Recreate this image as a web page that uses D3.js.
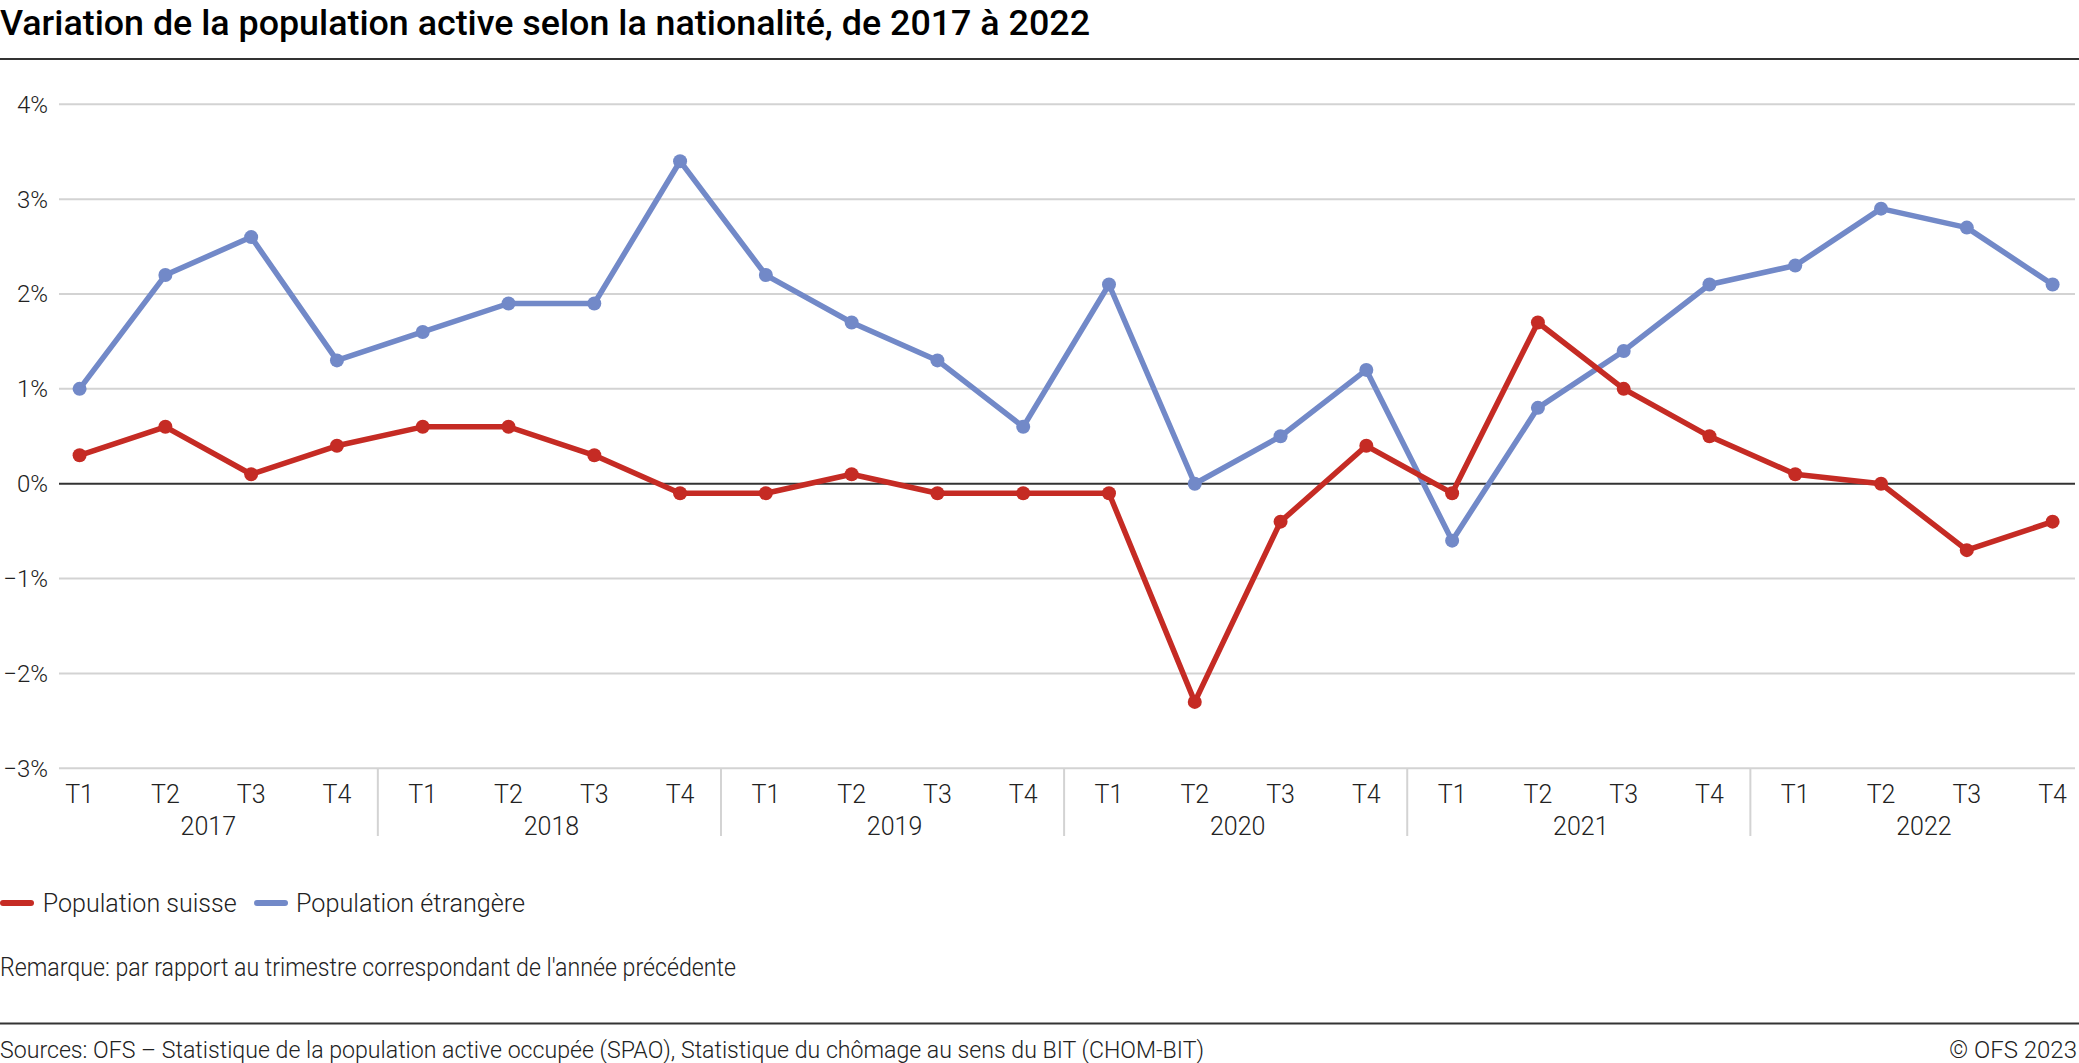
<!DOCTYPE html>
<html>
<head>
<meta charset="utf-8">
<script src="https://cdn.jsdelivr.net/npm/d3@7/dist/d3.min.js"></script>
<style>
  html, body { margin: 0; padding: 0; background: #fff; }
  svg { display: block; font-family: Roboto, "Noto Sans", sans-serif; }
</style>
</head>
<body>
<svg id="chart" width="2079" height="1063"></svg>
<script>
const years = ["2017", "2018", "2019", "2020", "2021", "2022"];
const quarters = ["T1", "T2", "T3", "T4"];
const suisse = [0.3, 0.6, 0.1, 0.4, 0.6, 0.6, 0.3, -0.1, -0.1, 0.1, -0.1, -0.1, -0.1, -2.3, -0.4, 0.4, -0.1, 1.7, 1.0, 0.5, 0.1, 0.0, -0.7, -0.4];
const etrangere = [1.0, 2.2, 2.6, 1.3, 1.6, 1.9, 1.9, 3.4, 2.2, 1.7, 1.3, 0.6, 2.1, 0.0, 0.5, 1.2, -0.6, 0.8, 1.4, 2.1, 2.3, 2.9, 2.7, 2.1];
const yTicks = [-3, -2, -1, 0, 1, 2, 3, 4];
const seriesNames = ["Population suisse", "Population étrangère"];
const seriesColors = ["#c52b24", "#7289c8"];

const W = 2079, H = 1063;
const svg = d3.select("#chart");

const keys = [];
years.forEach(y => quarters.forEach(q => keys.push(y + "-" + q)));

const x = d3.scalePoint().domain(keys).range([79.6, 2052.6]);
const y = d3.scaleLinear().domain([-3, 4]).range([768.3, 104.3]);
const gridX0 = 59, gridX1 = 2075;

// Title
svg.append("text")
  .attr("x", 0).attr("y", 35)
  .attr("font-size", 35).attr("font-weight", 500).attr("fill", "#000")
  .attr("textLength", 1090).attr("lengthAdjust", "spacingAndGlyphs")
  .text("Variation de la population active selon la nationalité, de 2017 à 2022");
svg.append("line").attr("x1", 0).attr("x2", W).attr("y1", 59).attr("y2", 59)
  .attr("stroke", "#333").attr("stroke-width", 2);

// Gridlines
const fmt = v => (v < 0 ? "\u2212" + Math.abs(v) : String(v)) + "%";
svg.append("g").selectAll("line").data(yTicks.filter(d => d !== 0)).join("line")
  .attr("x1", gridX0).attr("x2", gridX1)
  .attr("y1", d => y(d)).attr("y2", d => y(d))
  .attr("stroke", "#d3d3d3").attr("stroke-width", 2);

// Y labels
svg.append("g").selectAll("text").data(yTicks).join("text")
  .attr("x", 48).attr("y", d => y(d)).attr("dy", "0.35em")
  .attr("text-anchor", "end").attr("font-size", 24).attr("font-weight", 300).attr("fill", "#222")
  .text(fmt);

// Year separators
const step = x.step();
svg.append("g").selectAll("line").data(years.slice(1)).join("line")
  .attr("x1", d => x(d + "-T1") - step / 2 - 2).attr("x2", d => x(d + "-T1") - step / 2 - 2)
  .attr("y1", y(-3)).attr("y2", 836)
  .attr("stroke", "#d3d3d3").attr("stroke-width", 2);

// Quarter labels
svg.append("g").selectAll("text").data(keys).join("text")
  .attr("x", d => x(d)).attr("y", 803)
  .attr("text-anchor", "middle").attr("font-size", 25).attr("font-weight", 300).attr("fill", "#222")
  .text(d => d.split("-")[1]);

// Year labels
svg.append("g").selectAll("text").data(years).join("text")
  .attr("x", d => (x(d + "-T2") + x(d + "-T3")) / 2).attr("y", 835)
  .attr("text-anchor", "middle").attr("font-size", 25).attr("font-weight", 300).attr("fill", "#222")
  .text(d => d);

// Zero line
svg.append("line").attr("x1", gridX0).attr("x2", gridX1).attr("y1", y(0)).attr("y2", y(0))
  .attr("stroke", "#333").attr("stroke-width", 2);

// Series
const line = d3.line().x((d, i) => x(keys[i])).y(d => y(d));
[etrangere, suisse].forEach((vals, k) => {
  const col = k === 0 ? seriesColors[1] : seriesColors[0];
  svg.append("path").attr("d", line(vals)).attr("fill", "none")
    .attr("stroke", col).attr("stroke-width", 5.5).attr("stroke-linejoin", "round");
  svg.append("g").selectAll("circle").data(vals).join("circle")
    .attr("cx", (d, i) => x(keys[i])).attr("cy", d => y(d)).attr("r", 7)
    .attr("fill", col);
});

// Legend
const legendItems = [
  { name: seriesNames[0], color: seriesColors[0], x0: 2, tx: 42.7, w: 194 },
  { name: seriesNames[1], color: seriesColors[1], x0: 256, tx: 296, w: 229 }
];
const lg = svg.append("g");
legendItems.forEach(it => {
  lg.append("line").attr("x1", it.x0 + 1).attr("x2", it.x0 + 29).attr("y1", 903).attr("y2", 903)
    .attr("stroke", it.color).attr("stroke-width", 6).attr("stroke-linecap", "round");
  lg.append("text").attr("x", it.tx).attr("y", 903).attr("dy", "0.35em")
    .attr("font-size", 26).attr("font-weight", 300).attr("fill", "#222")
    .attr("textLength", it.w).attr("lengthAdjust", "spacingAndGlyphs").text(it.name);
});

// Remark
svg.append("text").attr("x", 0).attr("y", 976)
  .attr("font-size", 25).attr("font-weight", 300).attr("fill", "#222")
  .attr("textLength", 736).attr("lengthAdjust", "spacingAndGlyphs")
  .text("Remarque: par rapport au trimestre correspondant de l'année précédente");

// Footer
svg.append("line").attr("x1", 0).attr("x2", W).attr("y1", 1023.5).attr("y2", 1023.5)
  .attr("stroke", "#333").attr("stroke-width", 2);
svg.append("text").attr("x", 0).attr("y", 1058)
  .attr("font-size", 24).attr("font-weight", 300).attr("fill", "#222")
  .attr("textLength", 1204).attr("lengthAdjust", "spacingAndGlyphs")
  .text("Sources: OFS \u2013 Statistique de la population active occupée (SPAO), Statistique du chômage au sens du BIT (CHOM-BIT)");
svg.append("text").attr("x", 2077).attr("y", 1058).attr("text-anchor", "end")
  .attr("font-size", 24).attr("font-weight", 300).attr("fill", "#222")
  .text("© OFS 2023");
</script>
</body>
</html>
